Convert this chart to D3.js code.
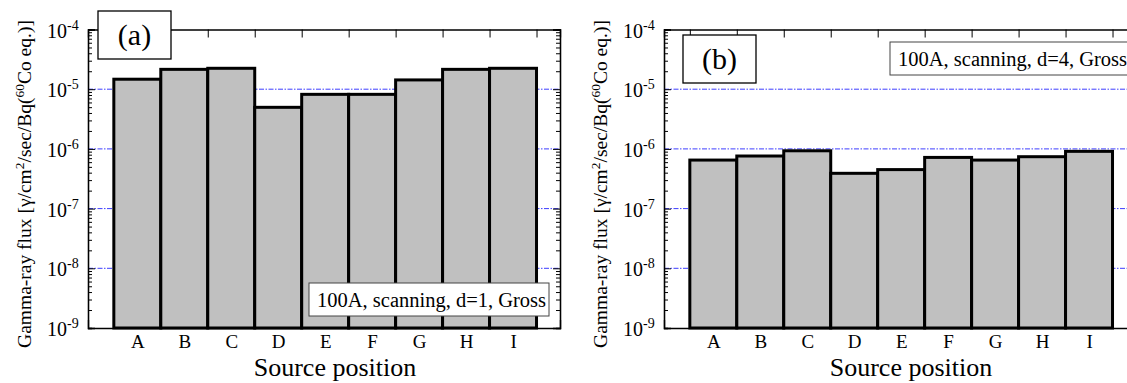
<!DOCTYPE html>
<html>
<head>
<meta charset="utf-8">
<script src="https://cdn.jsdelivr.net/npm/d3@7"></script>
<style>
  body { margin: 0; background: #fff; }
  text { font-family: 'Liberation Serif', 'Times New Roman', Times, serif; }
</style>
</head>
<body>
<div id="chart"></div>
<script>
const categories = ['A', 'B', 'C', 'D', 'E', 'F', 'G', 'H', 'I'];
const fluxD1 = [1.47e-5, 2.15e-5, 2.24e-5, 4.97e-6, 8.2e-6, 8.2e-6, 1.43e-5, 2.15e-5, 2.24e-5];
const fluxD4 = [6.5e-7, 7.6e-7, 9.3e-7, 3.9e-7, 4.5e-7, 7.2e-7, 6.5e-7, 7.4e-7, 9.1e-7];
const decades = [-9, -8, -7, -6, -5, -4];
const gridDecades = [-8, -7, -6, -5];

const serif = "'Liberation Serif', 'Times New Roman', Times, serif";

let w = 1127,
    h = 383;

let svg = d3.select('#chart').append('svg')
    .attr('width', w)
    .attr('height', h)
    .attr('font-family', serif)

function drawPanel(opts) {
    let left = opts.left,
        right = opts.left + 472,
        top = 29.5,
        bottom = 328;

    let g = svg.append('g')

    let x = d3.scaleLinear()
        .domain([-0.05, 10])
        .range([left, right]);

    let y = d3.scaleLog()
        .domain([1e-9, 1e-4])
        .range([bottom, top]);

    let majors = decades.map(d => Math.pow(10, d));
    let minors = [];
    decades.slice(0, -1).forEach(function(d) {
        for (let k = 2; k <= 9; k++) minors.push(k * Math.pow(10, d));
    });

    // blue dash-dot grid
    g.selectAll('.grid')
        .data(gridDecades)
        .enter().append('line')
        .attr('x1', left)
        .attr('x2', right)
        .attr('y1', d => y(Math.pow(10, d)))
        .attr('y2', d => y(Math.pow(10, d)))
        .attr('stroke', '#3d3dff')
        .attr('stroke-width', 1)
        .attr('stroke-dasharray', '5,1.5,1.5,1.5')

    // bars
    g.selectAll('.bar')
        .data(opts.values)
        .enter().append('rect')
        .attr('x', (d, i) => x(i + 0.5))
        .attr('width', (d, i) => x(i + 1.5) - x(i + 0.5))
        .attr('y', d => y(d))
        .attr('height', d => y(1e-9) - y(d))
        .attr('fill', '#c0c0c0')
        .attr('stroke', '#000')
        .attr('stroke-width', 3)

    let edges = d3.range(0, 10).map(i => i + 0.5);

    // frame + ticks
    g.append('g').attr('transform', `translate(${left},0)`)
        .call(d3.axisLeft(y).tickValues(majors).tickSize(-7).tickFormat(''));
    g.append('g').attr('transform', `translate(${left},0)`)
        .call(d3.axisLeft(y).tickValues(minors).tickSize(-4).tickFormat(''));
    g.append('g').attr('transform', `translate(${right},0)`)
        .call(d3.axisRight(y).tickValues(majors).tickSize(-7).tickFormat(''));
    g.append('g').attr('transform', `translate(${right},0)`)
        .call(d3.axisRight(y).tickValues(minors).tickSize(-4).tickFormat(''));

    g.append('g').attr('transform', `translate(0,${top})`)
        .call(d3.axisTop(x).tickValues(edges).tickSize(-8).tickFormat(''));
    g.append('g').attr('transform', `translate(0,${bottom})`)
        .call(d3.axisBottom(x).tickValues(edges).tickSize(-8).tickFormat(''));

    g.selectAll('.domain').attr('stroke', '#000').attr('stroke-width', 1.3);
    g.selectAll('.tick line').attr('stroke', '#000');

    // y tick labels 10^n
    let lab = g.selectAll('.ylab')
        .data(decades)
        .enter().append('text')
        .attr('x', left - 41)
        .attr('y', d => y(Math.pow(10, d)) + 8)
        .attr('font-family', serif)
        .attr('font-size', 20)
    lab.append('tspan').text('10');
    lab.append('tspan').attr('dy', -8).attr('font-size', 14).text(d => '-' + (-d));

    // category labels
    g.append('g').attr('transform', `translate(0,${bottom})`)
        .call(d3.axisBottom(x).tickValues(d3.range(1, 10)).tickSize(0)
            .tickFormat((d, i) => categories[i]))
        .attr('font-family', serif)
        .call(s => s.select('.domain').remove())
        .selectAll('text')
        .attr('font-size', 19)
        .attr('fill', '#000')
        .attr('dy', null)
        .attr('y', 20)

    g.append('text')
        .attr('x', left + 247)
        .attr('y', 376)
        .attr('text-anchor', 'middle')
        .attr('font-family', serif)
        .attr('font-size', 26)
        .text('Source position')

    let yt = g.append('text')
        .attr('transform', `translate(${left - 57},${184}) rotate(-90)`)
        .attr('text-anchor', 'middle')
        .attr('font-family', serif)
        .attr('font-size', 19.5)
    yt.append('tspan').text('Gamma-ray flux [\u03b3/cm');
    yt.append('tspan').attr('dy', -7).attr('font-size', 13.5).text('2');
    yt.append('tspan').attr('dy', 7).text('/sec/Bq(');
    yt.append('tspan').attr('dy', -7).attr('font-size', 13.5).text('60');
    yt.append('tspan').attr('dy', 7).text('Co eq.)]');

    // panel tag
    g.append('rect')
        .attr('x', opts.tag.x).attr('y', opts.tag.y)
        .attr('width', 73).attr('height', 48)
        .attr('fill', '#fff').attr('stroke', '#000').attr('stroke-width', 1.3)
    g.append('text')
        .attr('x', opts.tag.x + 36.5).attr('y', opts.tag.y + 34)
        .attr('text-anchor', 'middle')
        .attr('font-family', serif)
        .attr('font-size', 30)
        .text(opts.tag.text)

    // legend note
    g.append('rect')
        .attr('x', opts.note.x).attr('y', opts.note.y)
        .attr('width', 240).attr('height', 33)
        .attr('fill', '#fff').attr('stroke', '#444').attr('stroke-width', 1)
    g.append('text')
        .attr('x', opts.note.x + 8).attr('y', opts.note.y + 24)
        .attr('font-family', serif)
        .attr('font-size', 20.5)
        .text(opts.note.text)
}

drawPanel({
    left: 88,
    values: fluxD1,
    tag: { x: 98, y: 11, text: '(a)' },
    note: { x: 309, y: 283, text: '100A, scanning, d=1, Gross' }
});

drawPanel({
    left: 664,
    values: fluxD4,
    tag: { x: 683, y: 35, text: '(b)' },
    note: { x: 890, y: 42, text: '100A, scanning, d=4, Gross' }
});
</script>
</body>
</html>
